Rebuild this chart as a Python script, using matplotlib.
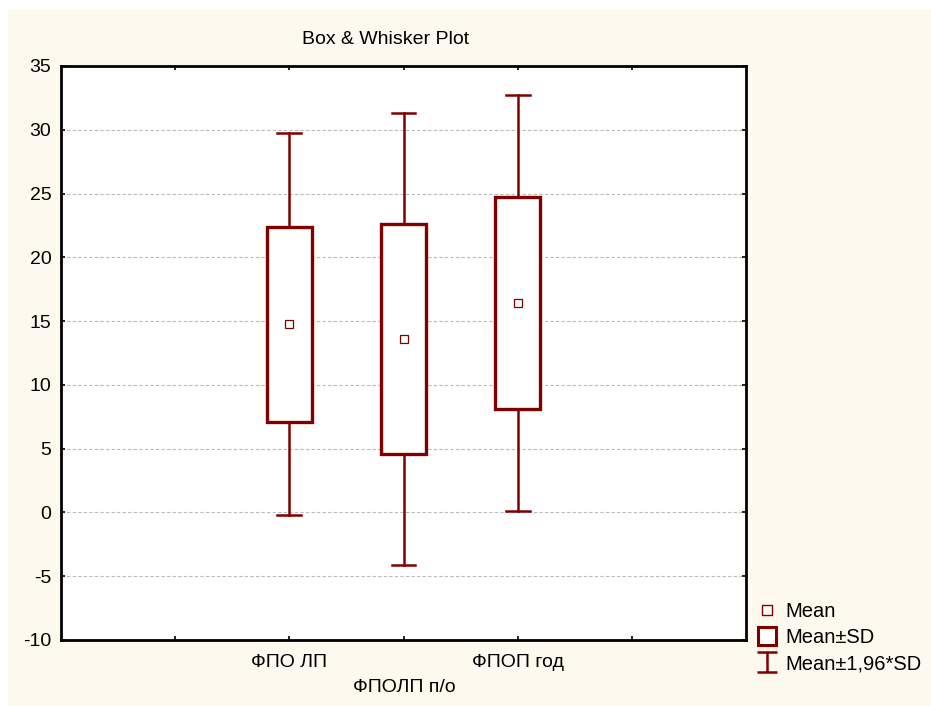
import matplotlib.pyplot as plt
from matplotlib.patches import Rectangle
from matplotlib.lines import Line2D
from matplotlib.path import Path
import numpy as np

# group statistics
groups = ['ФПО ЛП', 'ФПОЛП п/о', 'ФПОП год']
means = [14.76, 13.6, 16.41]
sds = [7.65, 9.05, 8.31]
positions = [2, 3, 4]

red = '#800000'
cream = '#FEF9EE'

plt.rcParams['font.family'] = ['Liberation Sans', 'DejaVu Sans']
plt.rcParams['axes.unicode_minus'] = False

fig = plt.figure(figsize=(9.31, 7.06), dpi=100)
fig.patches.append(Rectangle((8 / 931, 0), 1, 1 - 10 / 706, transform=fig.transFigure,
                             facecolor=cream, edgecolor='none', zorder=-10))

ax = fig.add_axes([61 / 931, 1 - 640 / 706, 685 / 931, 574 / 706])
ax.set_facecolor('white')
ax.set_xlim(0, 6)
ax.set_ylim(-10, 35)
ax.set_yticks(np.arange(-10, 36, 5))
ax.set_xticks([1, 2, 3, 4, 5])
ax.set_xticklabels(['', groups[0], '', groups[2], ''])
ax.tick_params(direction='in', length=3, width=1.2, top=True, right=True,
               labelsize=14, colors='black')
ax.tick_params(axis='y', pad=7)
ax.tick_params(axis='x', pad=10)
for s in ax.spines.values():
    s.set_linewidth(2)
for y in range(-5, 35, 5):
    ax.axhline(y, color='#BBBBBB', lw=0.8, ls=(0, (3, 2)), zorder=0)

box_w = 0.39
cap_w = 0.21
for x, m, sd in zip(positions, means, sds):
    lo, hi = m - 1.96 * sd, m + 1.96 * sd
    # whiskers
    ax.plot([x, x], [lo, m - sd], color=red, lw=1.8, zorder=2)
    ax.plot([x, x], [m + sd, hi], color=red, lw=1.8, zorder=2)
    ax.plot([x - cap_w / 2, x + cap_w / 2], [lo, lo], color=red, lw=1.8, zorder=2)
    ax.plot([x - cap_w / 2, x + cap_w / 2], [hi, hi], color=red, lw=1.8, zorder=2)
    # box
    ax.add_patch(Rectangle((x - box_w / 2, m - sd), box_w, 2 * sd, facecolor='white',
                           edgecolor=red, lw=2.4, zorder=3))
    ax.plot(x, m, marker='s', ms=6, mfc='white', mec=red, mew=0.9, zorder=4)

# middle category label sits below the others
fig.text(404 / 931, 1 - 688 / 706, groups[1], ha='center', va='center', fontsize=14)
fig.text(386 / 931, 1 - 40 / 706, 'Box & Whisker Plot', ha='center', va='center',
         fontsize=14)

# I-beam marker for the 1.96*SD whiskers
ibeam = Path([(-1, -1), (1, -1), (0, -1), (0, 1), (-1, 1), (1, 1)],
             [Path.MOVETO, Path.LINETO, Path.MOVETO, Path.LINETO, Path.MOVETO, Path.LINETO])

handles = [
    Line2D([], [], ls='none', marker='s', ms=7, mfc='white', mec=red, mew=1),
    Line2D([], [], ls='none', marker='s', ms=13, mfc='white', mec=red, mew=2.2),
    Line2D([], [], ls='none', marker=ibeam, ms=15, mfc='none', mec=red, mew=1.8),
]
fig.legend(handles, ['Mean', 'Mean±SD', 'Mean±1,96*SD'], loc='upper left',
           bbox_to_anchor=(745 / 931, 1 - 592 / 706), frameon=False, fontsize=14.5,
           handlelength=1.2, handletextpad=0.3, labelspacing=0.35, borderpad=0)

fig.savefig('out.png', dpi=100, facecolor='white')
